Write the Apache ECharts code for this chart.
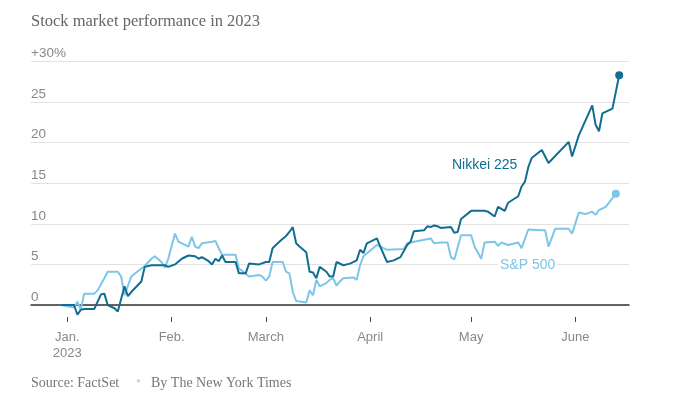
<!DOCTYPE html>
<html>
<head>
<meta charset="utf-8">
<script src="https://cdn.jsdelivr.net/npm/echarts@6/dist/echarts.min.js"></script>
<style>
html,body{margin:0;padding:0;background:#fff;}
#chart{width:680px;height:401px;}
</style>
</head>
<body>
<div id="chart"></div>
<script>
// ---- Data (percent change since Dec. 30, 2022) ----
const nikkeiDates = ['2022-12-30','2023-01-03','2023-01-04','2023-01-05','2023-01-06','2023-01-09','2023-01-11','2023-01-12','2023-01-13','2023-01-15','2023-01-16','2023-01-18','2023-01-19','2023-01-20','2023-01-23','2023-01-24','2023-01-26','2023-01-30','2023-01-31','2023-02-02','2023-02-04','2023-02-06','2023-02-08','2023-02-09','2023-02-10','2023-02-12','2023-02-13','2023-02-14','2023-02-15','2023-02-16','2023-02-17','2023-02-20','2023-02-21','2023-02-23','2023-02-24','2023-02-27','2023-03-01','2023-03-02','2023-03-03','2023-03-05','2023-03-07','2023-03-08','2023-03-09','2023-03-10','2023-03-11','2023-03-13','2023-03-14','2023-03-15','2023-03-16','2023-03-17','2023-03-19','2023-03-20','2023-03-21','2023-03-22','2023-03-24','2023-03-26','2023-03-28','2023-03-29','2023-03-30','2023-03-31','2023-04-02','2023-04-03','2023-04-04','2023-04-06','2023-04-08','2023-04-10','2023-04-12','2023-04-13','2023-04-14','2023-04-17','2023-04-18','2023-04-19','2023-04-20','2023-04-21','2023-04-22','2023-04-25','2023-04-26','2023-04-27','2023-04-28','2023-05-01','2023-05-05','2023-05-06','2023-05-08','2023-05-09','2023-05-11','2023-05-12','2023-05-15','2023-05-16','2023-05-17','2023-05-18','2023-05-19','2023-05-22','2023-05-24','2023-05-30','2023-05-31','2023-06-02','2023-06-06','2023-06-07','2023-06-08','2023-06-09','2023-06-12','2023-06-14'];
const nikkeiValues = [0,0,-1.2,-0.6,-0.5,-0.5,1.3,1.4,0.0,-0.4,-0.8,2.3,1.1,1.6,2.9,4.7,4.9,4.9,4.7,5.0,5.7,6.1,6.0,5.7,5.9,5.4,5.0,5.7,5.4,6.1,5.3,5.3,3.9,3.9,5.1,5.0,5.3,5.3,7.0,7.8,8.5,9.0,9.6,7.6,7.2,6.5,4.1,4.0,3.3,4.7,4.1,3.5,3.5,5.3,4.9,5.1,5.5,6.8,6.4,7.6,8.0,8.2,7.2,5.3,5.5,5.9,7.4,7.8,9.1,9.2,9.7,9.6,9.8,9.7,9.5,9.6,8.9,9.0,10.6,11.6,11.6,11.5,10.9,12.1,11.6,12.6,13.4,14.6,15.2,17.0,18.1,19.1,17.5,20.1,18.3,20.9,24.6,22.2,21.4,23.6,24.2,28.3];

const spDates = ['2022-12-30','2023-01-03','2023-01-04','2023-01-05','2023-01-06','2023-01-09','2023-01-10','2023-01-12','2023-01-13','2023-01-16','2023-01-17','2023-01-18','2023-01-20','2023-01-23','2023-01-24','2023-01-26','2023-01-27','2023-01-29','2023-01-30','2023-01-31','2023-02-02','2023-02-03','2023-02-06','2023-02-07','2023-02-08','2023-02-09','2023-02-10','2023-02-13','2023-02-14','2023-02-15','2023-02-16','2023-02-20','2023-02-21','2023-02-22','2023-02-24','2023-02-27','2023-02-28','2023-03-01','2023-03-02','2023-03-03','2023-03-06','2023-03-07','2023-03-08','2023-03-09','2023-03-10','2023-03-13','2023-03-14','2023-03-15','2023-03-16','2023-03-17','2023-03-19','2023-03-20','2023-03-21','2023-03-22','2023-03-23','2023-03-24','2023-03-27','2023-03-28','2023-03-29','2023-03-30','2023-04-03','2023-04-06','2023-04-11','2023-04-12','2023-04-13','2023-04-19','2023-04-20','2023-04-22','2023-04-24','2023-04-25','2023-04-26','2023-04-28','2023-05-01','2023-05-02','2023-05-04','2023-05-05','2023-05-08','2023-05-09','2023-05-10','2023-05-12','2023-05-15','2023-05-16','2023-05-18','2023-05-22','2023-05-23','2023-05-24','2023-05-26','2023-05-30','2023-05-31','2023-06-02','2023-06-04','2023-06-06','2023-06-07','2023-06-08','2023-06-10','2023-06-13'];
const spValues = [0,-0.3,0.4,-0.6,1.4,1.4,1.8,3.3,4.1,4.1,3.5,1.2,3.5,4.5,4.8,5.7,6.0,5.3,4.6,5.7,8.8,7.8,7.2,8.4,7.2,7.0,7.6,7.8,7.9,7.0,6.2,6.2,4.5,4.2,3.5,3.7,3.5,3.0,3.5,5.3,5.3,4.1,3.9,1.6,0.5,0.3,1.8,1.2,3.1,2.3,2.7,3.1,3.3,2.4,2.9,3.3,3.4,3.1,4.9,6.0,7.4,6.8,6.9,7.6,7.7,8.2,7.6,7.7,7.7,5.9,5.6,8.6,8.6,7.2,5.7,7.7,7.8,7.3,7.7,7.4,7.7,7.0,9.3,9.2,9.2,7.2,9.4,9.4,8.8,11.4,11.2,11.5,11.1,11.7,12.1,13.7];

const yTicks = [0, 5, 10, 15, 20, 25, 30];
const monthTicks = ['2023-01-01','2023-02-01','2023-03-01','2023-04-01','2023-05-01','2023-06-01'];
const monthLabels = ['Jan.\n2023','Feb.','March','April','May','June'];
const seriesNames = ['Nikkei 225', 'S&P 500'];

// ---- helpers ----
function toTime(s) {
  const p = s.split('-').map(Number);
  return new Date(p[0], p[1] - 1, p[2]).getTime();
}
function buildData(dates, values, color) {
  return dates.map((d, i) => {
    const item = { value: [toTime(d), values[i]] };
    if (i === dates.length - 1) {
      item.symbol = 'circle';
      item.symbolSize = 8;
      item.itemStyle = { color: color };
    }
    return item;
  });
}

const DARK = '#126e91';
const LIGHT = '#7dc6e7';
const sans = "'Liberation Sans',Arial,Helvetica,sans-serif";
const serif = "'Liberation Serif','DejaVu Serif',Georgia,serif";

const xMin = new Date(2022, 11, 21, 5).getTime();
const xMax = new Date(2023, 5, 16, 22).getTime();
const monthTickTimes = monthTicks.map(toTime);

const chart = echarts.init(document.getElementById('chart'), null, { renderer: 'canvas' });

chart.setOption({
  animation: false,
  backgroundColor: '#fff',
  grid: { left: 31, right: 51, top: 61.5, bottom: 96, containLabel: false },
  xAxis: [
    {
      type: 'value',
      min: xMin,
      max: xMax,
      axisLine: { show: true, onZero: true, lineStyle: { color: '#333', width: 1.5 } },
      axisTick: { show: false },
      axisLabel: { show: false },
      splitLine: { show: false }
    },
    {
      type: 'value',
      min: xMin,
      max: xMax,
      position: 'bottom',
      offset: 12,
      axisLine: { show: false },
      axisTick: {
        show: true,
        length: 5,
        customValues: monthTickTimes,
        lineStyle: { color: '#444', width: 1 }
      },
      axisLabel: {
        show: true,
        customValues: monthTickTimes,
        margin: 12,
        color: '#888',
        fontFamily: sans,
        fontSize: 13,
        lineHeight: 16,
        align: 'center',
        formatter: function (val) {
          const idx = monthTickTimes.indexOf(val);
          return idx >= 0 ? monthLabels[idx] : '';
        }
      },
      splitLine: { show: false }
    }
  ],
  yAxis: {
    type: 'value',
    min: yTicks[0],
    max: yTicks[yTicks.length - 1],
    interval: 5,
    axisLine: { show: false },
    axisTick: { show: false },
    axisLabel: {
      inside: true,
      margin: 0,
      color: '#888',
      fontFamily: sans,
      fontSize: 13.5,
      verticalAlign: 'bottom',
      padding: [0, 0, 1, 0],
      formatter: function (v) {
        return v === 30 ? '+30%' : String(v);
      }
    },
    splitLine: { show: true, lineStyle: { color: '#e2e2e2', width: 1 } }
  },
  title: {
    text: 'Stock market performance in 2023',
    left: 26,
    top: 8,
    textStyle: { fontFamily: serif, fontSize: 16.5, fontWeight: 'normal', color: '#666' }
  },
  graphic: [
    {
      type: 'text',
      left: 31,
      top: 376,
      style: { text: 'Source: FactSet', fontFamily: serif, fontSize: 14, fill: '#777' }
    },
    {
      type: 'text',
      left: 136,
      top: 375,
      style: { text: '•', fontFamily: serif, fontSize: 14, fill: '#d6d6d6' }
    },
    {
      type: 'text',
      left: 151,
      top: 376,
      style: { text: 'By The New York Times', fontFamily: serif, fontSize: 14, fill: '#777' }
    },
    {
      type: 'text',
      left: 452,
      top: 158,
      z: 10,
      style: { text: seriesNames[0], fontFamily: sans, fontSize: 14, fill: DARK }
    },
    {
      type: 'text',
      left: 498,
      top: 258,
      z: 10,
      style: {
        text: seriesNames[1], fontFamily: sans, fontSize: 14, fill: LIGHT,
        backgroundColor: '#fff', padding: [0, 2, 0, 2]
      }
    }
  ],
  series: [
    {
      name: seriesNames[1],
      type: 'line',
      xAxisIndex: 0,
      data: buildData(spDates, spValues, LIGHT),
      symbol: 'none',
      clip: false,
      lineStyle: { color: LIGHT, width: 2 },
      itemStyle: { color: LIGHT },
      z: 3
    },
    {
      name: seriesNames[0],
      type: 'line',
      xAxisIndex: 0,
      data: buildData(nikkeiDates, nikkeiValues, DARK),
      symbol: 'none',
      clip: false,
      lineStyle: { color: DARK, width: 2 },
      itemStyle: { color: DARK },
      z: 4
    }
  ]
});
</script>
</body>
</html>
